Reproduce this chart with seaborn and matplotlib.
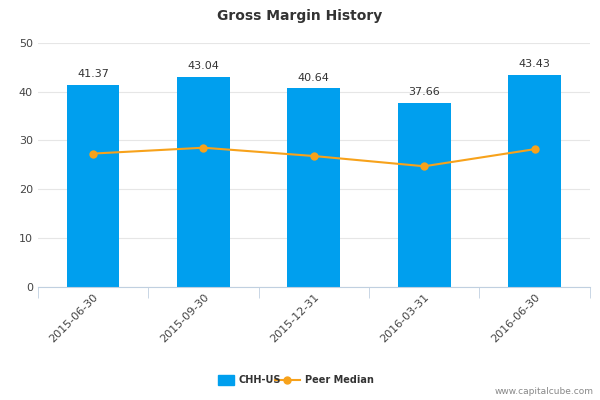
import matplotlib
matplotlib.use("Agg")
import matplotlib.pyplot as plt
import seaborn as sns
import pandas as pd

dates = ["2015-06-30", "2015-09-30", "2015-12-31", "2016-03-31", "2016-06-30"]
company = [41.37, 43.04, 40.64, 37.66, 43.43]
peer = [27.3, 28.5, 26.8, 24.7, 28.2]

df = pd.DataFrame({"date": dates, "company": company, "peer": peer})

fig = plt.figure(figsize=(6, 4), dpi=100)
ax = fig.add_axes([0.063, 0.283, 0.92, 0.61])
sns.barplot(data=df, x="date", y="company", color="#009FEE", width=0.48, ax=ax, saturation=1, zorder=2)
sns.lineplot(x=range(len(dates)), y=peer, color="#F7A21B", marker="o", markersize=6,
             markeredgewidth=0, linewidth=1.5, ax=ax, zorder=3)
for i, v in enumerate(company):
    ax.text(i, v + 1.2, f"{v:.2f}", ha="center", va="bottom", fontsize=8, color="#333333")
ax.set_ylim(0, 50)
ax.set_xlim(-0.5, 4.5)
ax.set_yticks(range(0, 51, 10))
ax.grid(axis="y", color="#E6E6E6", linewidth=0.8, zorder=0)
ax.set_axisbelow(True)
for s in ["top", "right", "left"]:
    ax.spines[s].set_visible(False)
ax.spines["bottom"].set_color("#C0D0E0")
ax.tick_params(axis="y", length=0, labelsize=8, colors="#444444")
ax.set_xticks([i + 0.5 for i in range(-1, 5)], minor=True)
ax.tick_params(axis="x", which="minor", length=8, color="#C0D0E0")
ax.tick_params(axis="x", which="major", length=0, labelsize=8, colors="#444444")
plt.setp(ax.get_xticklabels(), rotation=45, ha="right", rotation_mode="anchor")
ax.set_xlabel("")
ax.set_ylabel("")
fig.text(0.5, 0.96, "Gross Margin History", ha="center", va="center", fontsize=10, fontweight="bold", color="#333333")
fig.patches.append(plt.Rectangle((0.363, 0.038), 0.027, 0.025, transform=fig.transFigure, color="#009FEE", figure=fig))
fig.text(0.398, 0.05, "CHH-US", fontsize=7, fontweight="bold", va="center", color="#333333")
fig.lines.append(plt.Line2D([0.458, 0.5], [0.05, 0.05], transform=fig.transFigure, color="#F7A21B", lw=1.5, figure=fig))
fig.lines.append(plt.Line2D([0.479], [0.05], transform=fig.transFigure, color="#F7A21B", marker="o", ms=5, figure=fig))
fig.text(0.508, 0.05, "Peer Median", fontsize=7, fontweight="bold", va="center", color="#333333")
fig.text(0.99, 0.02, "www.capitalcube.com", fontsize=6.5, ha="right", va="center", color="#888888")
fig.savefig("out.png", dpi=100)
